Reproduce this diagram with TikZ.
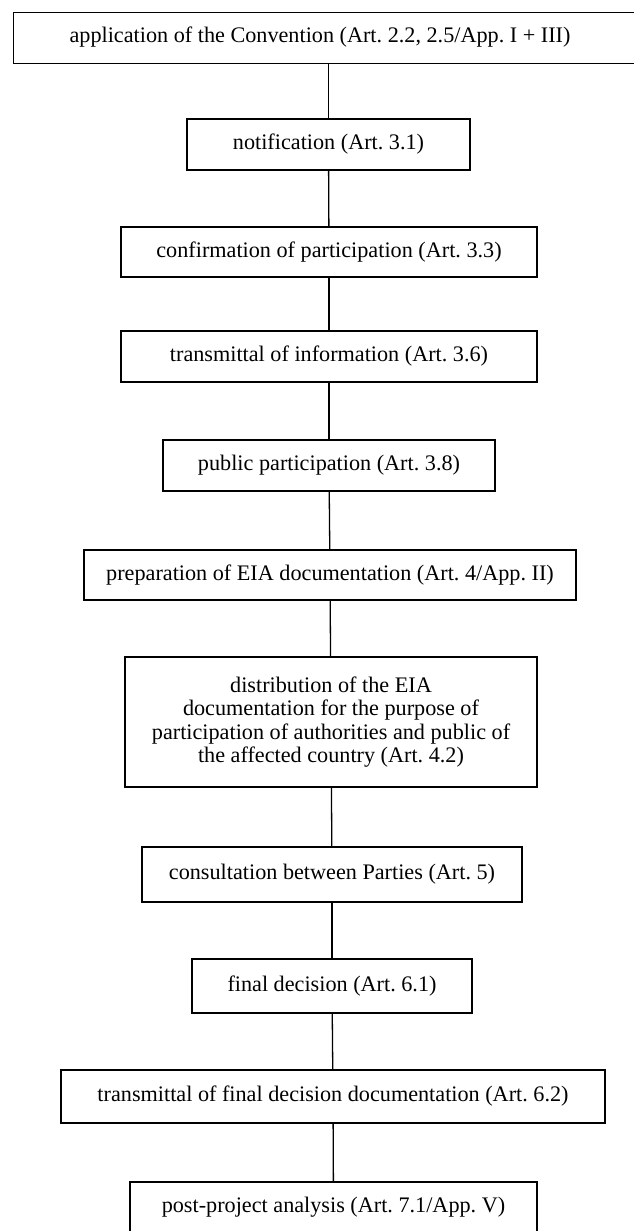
\documentclass[tikz,border=0pt]{standalone}
\usepackage{fontspec}
\setmainfont{Liberation Serif}
\begin{document}
\begin{tikzpicture}[x=1pt,y=-1pt,
  box/.style={draw, line width=1.4pt, inner sep=0pt, align=center,
    font=\fontsize{22.2}{23.5}\selectfont},
  link/.style={line width=1.3pt}]
\useasboundingbox[fill=white] (0,0) rectangle (634,1231);
\node[box, minimum width=640pt, minimum height=51pt, anchor=north west] (top) at (13,12) {};
\node[font=\fontsize{22.2}{23.5}\selectfont, inner sep=0pt] (toptext) at (320,37.5)
  {application of the Convention (Art.~2.2, 2.5/App.~I + III)};
\node[box, minimum width=283pt, minimum height=51pt] (notif) at (328.5,144.5) {notification (Art.~3.1)};
\node[box, minimum width=416pt, minimum height=50pt] (conf) at (329,252) {confirmation of participation (Art.~3.3)};
\node[box, minimum width=416pt, minimum height=51pt] (tinfo) at (329,356.5) {transmittal of information (Art.~3.6)};
\node[box, minimum width=332pt, minimum height=51pt] (pub) at (329,465.5) {public participation (Art.~3.8)};
\node[box, minimum width=492pt, minimum height=50pt] (prep) at (330,575) {preparation of EIA documentation (Art.~4/App.~II)};
\node[box, minimum width=412pt, minimum height=130pt] (dist) at (331,722)
  {distribution of the EIA\\documentation for the purpose of\\participation of authorities and public of\\the affected country (Art.~4.2)};
\node[box, minimum width=380pt, minimum height=55pt] (cons) at (332,874.5) {consultation between Parties (Art.~5)};
\node[box, minimum width=280pt, minimum height=54pt] (fin) at (332,986) {final decision (Art.~6.1)};
\node[box, minimum width=544pt, minimum height=53pt] (tfin) at (333,1096.5) {transmittal of final decision documentation (Art.~6.2)};
\node[box, minimum width=407pt, minimum height=51pt] (post) at (333.5,1207.5) {post-project analysis (Art.~7.1/App.~V)};
\draw[link] (top.south -| notif.north) -- (notif.north);
\draw[link] (notif) -- (conf);
\draw[link] (conf) -- (tinfo);
\draw[link] (tinfo) -- (pub);
\draw[link] (pub) -- (prep);
\draw[link] (prep) -- (dist);
\draw[link] (dist) -- (cons);
\draw[link] (cons) -- (fin);
\draw[link] (fin) -- (tfin);
\draw[link] (tfin) -- (post);
\end{tikzpicture}
\end{document}
